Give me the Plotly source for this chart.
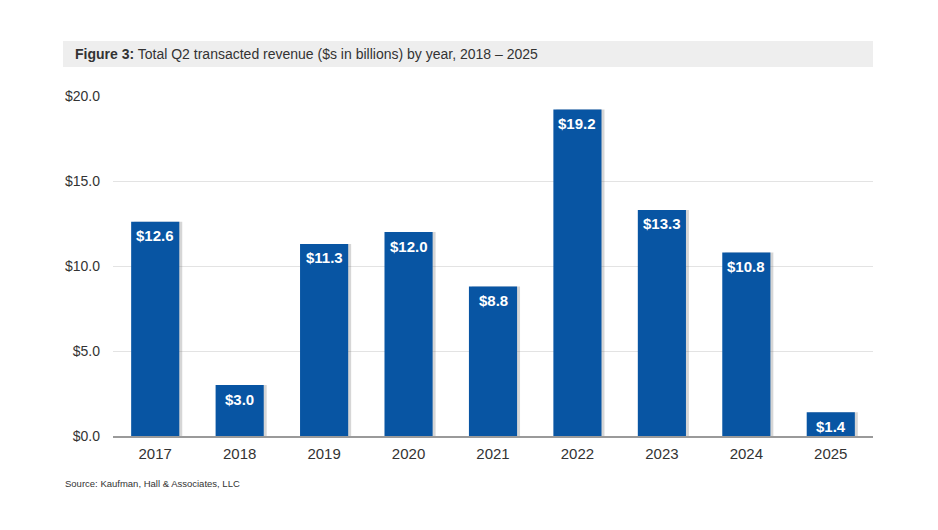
import plotly.graph_objects as go

years = ["2017", "2018", "2019", "2020", "2021", "2022", "2023", "2024", "2025"]
revenue = [12.6, 3.0, 11.3, 12.0, 8.8, 19.2, 13.3, 10.8, 1.4]
ytick_vals = [0, 5, 10, 15, 20]
ytick_text = ["$0.0", "$5.0", "$10.0", "$15.0", "$20.0"]

BAR = "#0855a3"
FONT = "Liberation Sans, Arial, sans-serif"
W = 0.57

fig = go.Figure()
# drop shadow
fig.add_trace(go.Bar(
    x=years, y=revenue, width=W, offset=-W / 2 + 0.035,
    marker=dict(color="rgba(120,120,120,0.3)", line=dict(width=0)),
    hoverinfo="skip", showlegend=False,
))
fig.add_trace(go.Bar(
    x=years, y=revenue, width=W, offset=-W / 2,
    marker=dict(color=BAR, line=dict(width=0)),
    showlegend=False,
))

# value labels placed on the category axis by category index
labels = [
    dict(x=i, y=v, xref="x", yref="y", yshift=-14, yanchor="middle",
         xanchor="center", showarrow=False, text=f"${v:.1f}",
         font=dict(color="white", size=15, family=FONT, weight="bold"))
    for i, v in enumerate(revenue)
]

fig.update_layout(
    width=930, height=522,
    margin=dict(l=105, r=65, t=88, b=94),
    paper_bgcolor="white", plot_bgcolor="white",
    barmode="overlay",
    font=dict(family=FONT, color="#333333", size=14),
    xaxis=dict(
        type="category", categoryorder="array", categoryarray=years,
        showgrid=False, ticks="", showline=True, ticklabelstandoff=3,
        linecolor="#9a9a9a", linewidth=1.5, tickfont=dict(size=15, color="#333333"),
    ),
    yaxis=dict(
        range=[0, 20], tickvals=ytick_vals, ticktext=ytick_text,
        showgrid=True, gridcolor="#e3e3e3", gridwidth=1,
        zeroline=False, showline=False, ticks="", ticklabelstandoff=12,
        tickfont=dict(size=14, color="#333333"),
    ),
    shapes=[dict(
        type="rect", xref="paper", yref="paper",
        x0=-0.0658, x1=1.0, y0=1.0853, y1=1.1618,
        fillcolor="#eeeeee", line=dict(width=0), layer="below",
    )],
    annotations=labels + [
        dict(
            xref="paper", yref="paper", x=-0.053, y=1.1235,
            xanchor="left", yanchor="middle", showarrow=False,
            text="<b>Figure 3:</b> Total Q2 transacted revenue ($s in billions) by year, 2018 – 2025",
            font=dict(size=14, color="#333333", family=FONT),
        ),
        dict(
            xref="paper", yref="paper", x=-0.0658, y=-0.141,
            xanchor="left", yanchor="middle", showarrow=False,
            text="Source: Kaufman, Hall & Associates, LLC",
            font=dict(size=9.5, color="#333333", family=FONT),
        ),
    ],
)

fig.write_html("out.html")
